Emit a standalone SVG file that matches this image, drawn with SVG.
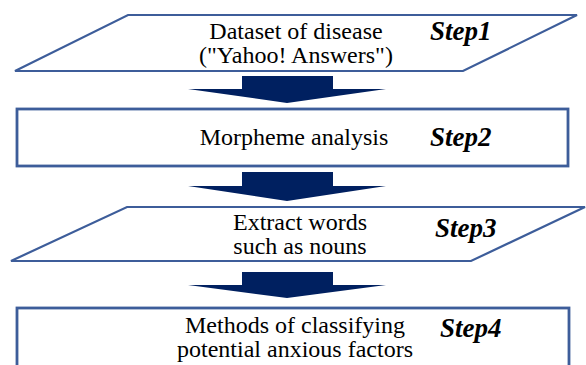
<svg xmlns="http://www.w3.org/2000/svg" width="586" height="365" viewBox="0 0 586 365">
<style>
.box{fill:#fff;stroke:#3d5d9a;stroke-width:2.2}
.rbox{fill:#fff;stroke:#3d5d9a;stroke-width:2.8}
.arr{fill:#002060}
.t{font-size:24px;fill:#000;text-anchor:middle}
.s{font-size:27px;font-weight:bold;font-style:italic;fill:#000}
</style>
<rect width="586" height="365" fill="#fff"/>
<g id="connectors">
<path class="arr" d="M242,76 H333 V89 H386 L287,103 L188,89 H242 Z"/>
<path class="arr" d="M242,172 H333 V186 H386 L287,201 L188,186 H242 Z"/>
<path class="arr" d="M242,272 H333 V285 H386 L287,298 L188,285 H242 Z"/>
</g>
<g id="step1">
<polygon class="box" points="128,15 577,15 463,71 15,71"/>
<text class="t" font-family="Liberation Serif" x="296" y="39">Dataset of disease</text>
<text class="t" font-family="Liberation Serif" x="296" y="63">("Yahoo! Answers")</text>
<text class="s" font-family="Liberation Serif" x="430" y="40">Step1</text>
</g>
<g id="step2">
<rect class="rbox" x="17" y="109" width="551" height="57"/>
<text class="t" font-family="Liberation Serif" x="294" y="145">Morpheme analysis</text>
<text class="s" font-family="Liberation Serif" x="430" y="146">Step2</text>
</g>
<g id="step3">
<polygon class="box" points="127,207 585,207 471,261 11,261"/>
<text class="t" font-family="Liberation Serif" x="300" y="230">Extract words</text>
<text class="t" font-family="Liberation Serif" x="300" y="254">such as nouns</text>
<text class="s" font-family="Liberation Serif" x="435" y="237">Step3</text>
</g>
<g id="step4">
<rect class="rbox" x="17" y="308" width="552" height="70"/>
<text class="t" font-family="Liberation Serif" x="295" y="333">Methods of classifying</text>
<text class="t" font-family="Liberation Serif" x="295" y="357">potential anxious factors</text>
<text class="s" font-family="Liberation Serif" x="440" y="337">Step4</text>
</g>
</svg>
